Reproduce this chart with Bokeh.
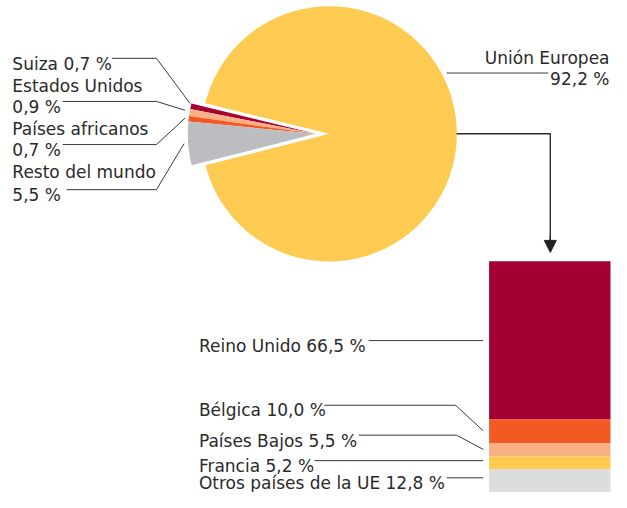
import numpy as np
from bokeh.plotting import figure
from bokeh.models import Range1d, Arrow, NormalHead, ColumnDataSource
from bokeh.core.properties import value
from bokeh.embed import file_html
from bokeh.resources import INLINE

# ---------------- data ----------------
world_labels = ["Suiza", "Estados Unidos", "Países africanos", "Resto del mundo", "Unión Europea"]
world_values = [0.7, 0.9, 0.7, 5.5, 92.2]
world_colors = ["#A6032F", "#F8B187", "#F15A24", "#BCBDC0", "#FECB52"]

eu_labels = ["Reino Unido", "Bélgica", "Países Bajos", "Francia", "Otros países de la UE"]
eu_values = [66.5, 10.0, 5.5, 5.2, 12.8]
eu_colors = ["#A50034", "#F15A22", "#F8B185", "#FECB4F", "#DCDDDF"]


def pct(v):
    return f"{v:.1f}".replace(".", ",") + " %"


# ---------------- layout (reference pixel coordinates) ----------------
W, H = 611, 492
def Y(ry):  # reference pixel row -> data y (up)
    return 508 - ry

FONT = value("DejaVu Sans")
FSIZE = value("17px")
TXT = "#2a2a2a"
LINE = "#3a3a3a"

p = figure(width=W, height=H, output_backend="svg", toolbar_location=None,
           x_range=Range1d(0, 619), y_range=Range1d(Y(502), Y(0)),
           x_axis_type=None, y_axis_type=None, min_border=0)
p.grid.visible = False
p.outline_line_color = None
p.background_fill_color = "white"
p.border_fill_color = "white"

# ---------------- pie ----------------
cx, cy, r = 333, Y(136), 129.3
start = np.deg2rad(166.2)
vals = np.array(world_values)
ang = vals / vals.sum() * 2 * np.pi
ends = start + np.cumsum(ang)
starts = ends - ang
small = np.arange(len(vals)) < 4
mid_small = (starts[0] + ends[3]) / 2
explode = 14
xs = np.where(small, cx + explode * np.cos(mid_small), cx)
ys = np.where(small, cy + explode * np.sin(mid_small), cy)
src = ColumnDataSource(dict(x=xs, y=ys, s=starts, e=ends, c=world_colors))
p.wedge(x="x", y="y", radius=r, start_angle="s", end_angle="e",
        fill_color="c", line_color=None, source=src)

# ---------------- bar (EU breakdown) ----------------
bar_top, bar_h = 266, 243
ev = np.array(eu_values)
cum = np.concatenate([[0], np.cumsum(ev)]) / 100 * bar_h
bsrc = ColumnDataSource(dict(top=[Y(bar_top + a) for a in cum[:-1]],
                             bottom=[Y(bar_top + b) for b in cum[1:]],
                             c=eu_colors))
p.quad(left=495, right=618, top="top", bottom="bottom", fill_color="c",
       line_color=None, source=bsrc)

# ---------------- arrow from pie to bar ----------------
p.line([462, 557, 557], [Y(136), Y(136), Y(246)], line_color="#2a2a2a", line_width=1.4)
p.add_layout(Arrow(end=NormalHead(size=12, fill_color="#222222", line_color="#222222"),
                   x_start=557, y_start=Y(240), x_end=557, y_end=Y(257),
                   line_color="#2a2a2a", line_width=1.4))

# ---------------- labels ----------------
left_texts = [f"{world_labels[0]} {pct(world_values[0])}",
              world_labels[1], pct(world_values[1]),
              world_labels[2], pct(world_values[2]),
              world_labels[3], pct(world_values[3])]
left_base = [65, 87, 109, 131, 153, 175, 198]
p.text(x=[12] * len(left_texts), y=[Y(b) for b in left_base], text=left_texts,
       text_font=FONT, text_font_size=FSIZE, text_color=TXT,
       text_baseline="alphabetic", text_align="left")

p.text(x=[617, 617], y=[Y(58.5), Y(80.5)], text=[world_labels[4], pct(world_values[4])],
       text_font=FONT, text_font_size=FSIZE, text_color=TXT,
       text_baseline="alphabetic", text_align="right")

bottom_texts = [f"{l} {pct(v)}" for l, v in zip(eu_labels, eu_values)]
bottom_base = [352.7, 418.3, 449, 475, 492.5]
p.text(x=[201] * len(bottom_texts), y=[Y(b) for b in bottom_base], text=bottom_texts,
       text_font=FONT, text_font_size=FSIZE, text_color=TXT,
       text_baseline="alphabetic", text_align="left")

# leader lines
leaders = [
    [(113, 59), (158, 59), (192, 105)],
    [(63, 103), (158, 103), (187, 112)],
    [(63, 147), (158, 147), (187, 120)],
    [(67, 193), (158, 193), (186, 146)],
    [(452, 74), (555, 74)],
    [(373, 347), (489, 347)],
    [(328, 413), (461, 413), (489, 439)],
    [(363, 443.5), (462, 443.5), (489, 458)],
    [(318, 469.5), (489, 469.5)],
    [(452, 487), (489, 487)],
]
p.multi_line(xs=[[a for a, b in L] for L in leaders],
             ys=[[Y(b) for a, b in L] for L in leaders],
             line_color=LINE, line_width=1)

open("out.html", "w").write(file_html(p, INLINE))
